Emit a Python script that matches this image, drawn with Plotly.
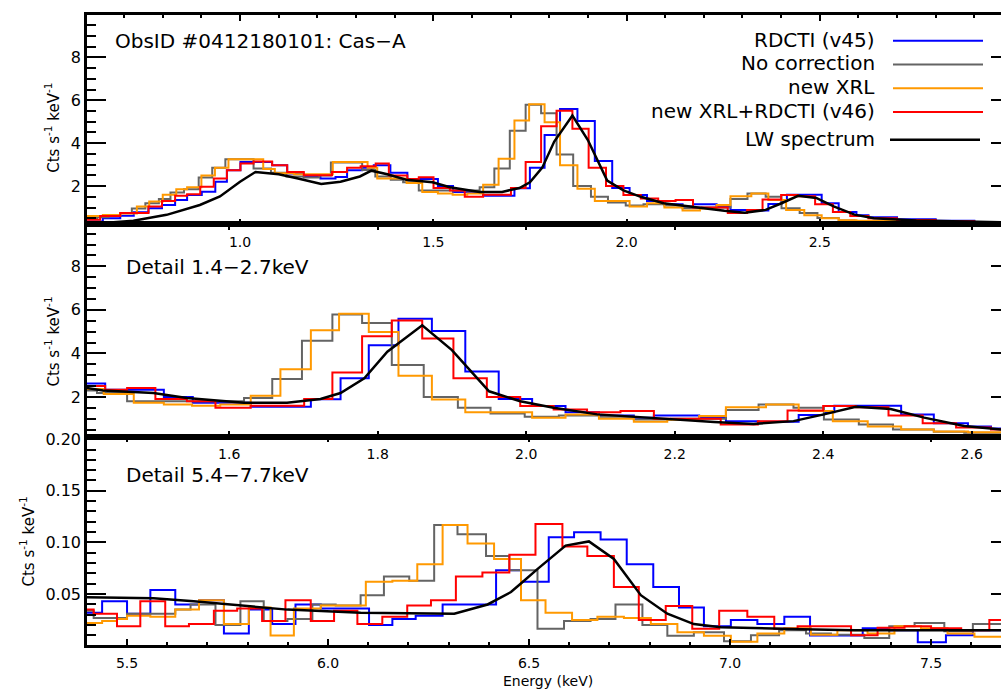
import plotly.graph_objects as go

# ---------------- data: soft band (0.6-3.0 keV), used in top and middle panels
rdcti_soft_edges = [0.604, 0.645, 0.690, 0.725, 0.763, 0.798, 0.832, 0.863, 0.901, 0.936, 0.966, 1.001,
                    1.035, 1.083, 1.122, 1.165, 1.208, 1.247, 1.277, 1.316, 1.346, 1.389, 1.433, 1.512,
                    1.551, 1.629, 1.710, 1.750, 1.788, 1.828, 1.873, 1.918, 1.963, 2.008, 2.053, 2.098,
                    2.145, 2.172, 2.233, 2.269, 2.313, 2.367, 2.401, 2.415, 2.505, 2.549, 2.595, 2.626,
                    2.70, 2.80, 2.90, 3.00]
rdcti_soft_vals = [0.35, 0.50, 0.62, 0.78, 0.97, 1.12, 1.35, 1.58, 1.74, 2.20, 2.74, 3.12, 3.12, 2.97,
                   2.59, 2.43, 2.36, 2.43, 2.74, 2.85, 2.97, 2.62, 2.33, 2.00, 1.73, 1.55, 1.90, 2.86,
                   4.38, 5.59, 5.03, 3.17, 1.91, 1.58, 1.30, 1.15, 1.05, 1.15, 1.05, 0.89, 0.86, 1.17,
                   1.30, 1.60, 1.20, 0.79, 0.64, 0.55, 0.45, 0.38, 0.33]

nocorr_soft_edges = [0.604, 0.630, 0.660, 0.690, 0.720, 0.755, 0.790, 0.820, 0.855, 0.893, 0.928, 0.962,
                     1.035, 1.080, 1.120, 1.165, 1.205, 1.235, 1.316, 1.350, 1.390, 1.422, 1.4625, 1.620,
                     1.658, 1.698, 1.739, 1.779, 1.819, 1.862, 1.908, 1.952, 1.998, 2.044, 2.098, 2.145,
                     2.195, 2.269, 2.313, 2.360, 2.401, 2.448, 2.494, 2.549, 2.590, 2.70, 2.80, 3.00]
nocorr_soft_vals = [0.50, 0.55, 0.62, 0.75, 0.95, 1.20, 1.40, 1.70, 1.85, 2.40, 2.85, 3.25, 2.82, 2.62,
                    2.45, 2.40, 2.50, 3.10, 2.75, 2.45, 2.30, 2.18, 1.80, 1.95, 2.82, 4.58, 5.79, 5.40,
                    3.47, 2.00, 1.50, 1.24, 1.09, 1.15, 1.09, 0.97, 1.00, 1.40, 1.65, 1.50, 0.97, 0.74,
                    0.51, 0.40, 0.36, 0.32, 0.30]

newxrl_soft_edges = [0.604, 0.645, 0.690, 0.733, 0.765, 0.800, 0.835, 0.863, 0.900, 0.935, 0.970, 1.060,
                     1.090, 1.140, 1.240, 1.330, 1.355, 1.431, 1.4715, 1.512, 1.550, 1.588, 1.629, 1.669,
                     1.710, 1.748, 1.788, 1.828, 1.873, 1.918, 2.008, 2.053, 2.098, 2.145, 2.190, 2.233,
                     2.269, 2.323, 2.367, 2.413, 2.460, 2.505, 2.549, 2.595, 2.70, 3.00]
newxrl_soft_vals = [0.60, 0.65, 0.72, 1.05, 1.28, 1.60, 1.85, 1.95, 2.50, 2.85, 3.25, 2.80, 2.60, 2.55,
                    3.12, 2.85, 2.36, 2.14, 1.73, 1.65, 1.60, 1.65, 2.06, 3.27, 5.06, 5.82, 4.98, 2.97,
                    1.88, 1.30, 1.05, 1.20, 1.00, 0.86, 0.95, 1.12, 1.53, 1.65, 1.35, 0.89, 0.64, 0.50,
                    0.41, 0.38, 0.32]

v46_soft_edges = [0.604, 0.638, 0.690, 0.763, 0.798, 0.832, 0.863, 0.897, 0.932, 0.966, 1.001, 1.035,
                  1.083, 1.122, 1.165, 1.238, 1.277, 1.312, 1.351, 1.385, 1.433, 1.4625, 1.5006, 1.543,
                  1.5815, 1.629, 1.701, 1.739, 1.779, 1.819, 1.860, 1.902, 1.947, 1.992, 2.037, 2.082,
                  2.127, 2.172, 2.262, 2.312, 2.352, 2.400, 2.444, 2.488, 2.534, 2.579, 2.626, 2.70,
                  2.80, 2.90, 3.00]
v46_soft_vals = [0.43, 0.60, 0.74, 1.05, 1.30, 1.55, 1.62, 1.97, 2.36, 2.74, 3.05, 3.15, 2.97, 2.66,
                 2.51, 2.66, 2.85, 2.93, 3.05, 2.50, 2.33, 2.41, 1.91, 1.80, 1.50, 1.60, 1.91, 3.12,
                 4.79, 5.51, 4.68, 2.86, 2.00, 1.58, 1.42, 1.30, 1.35, 1.00, 0.74, 0.89, 1.38, 1.58,
                 1.53, 1.15, 0.79, 0.60, 0.50, 0.42, 0.36, 0.32]

lw_soft_x = [0.604, 0.724, 0.810, 0.896, 0.948, 1.000, 1.040, 1.100, 1.150, 1.210, 1.260, 1.310, 1.340,
             1.381, 1.430, 1.498, 1.543, 1.620, 1.678, 1.723, 1.750, 1.782, 1.813, 1.860, 1.900, 1.950,
             1.992, 2.037, 2.096, 2.145, 2.195, 2.253, 2.306, 2.360, 2.401, 2.444, 2.491, 2.536, 2.590,
             2.640, 2.750, 2.900, 3.000]
lw_soft_y = [0.22, 0.38, 0.66, 1.12, 1.52, 2.20, 2.66, 2.55, 2.35, 2.10, 2.20, 2.45, 2.72, 2.55, 2.30,
             2.18, 1.95, 1.73, 1.73, 1.91, 2.18, 2.86, 4.08, 5.29, 4.15, 2.26, 1.80, 1.50, 1.20, 1.08,
             0.98, 0.85, 0.76, 0.89, 1.20, 1.55, 1.45, 1.05, 0.67, 0.50, 0.40, 0.33, 0.30]

# ---------------- data: hard band (5.4-7.7 keV), bottom panel
rdcti_hard_edges = [5.400, 5.438, 5.500, 5.558, 5.620, 5.679, 5.741, 5.803, 5.861, 5.919, 5.982, 6.102,
                    6.160, 6.218, 6.285, 6.418, 6.480, 6.549, 6.612, 6.678, 6.743, 6.809, 6.873, 6.935,
                    7.002, 7.068, 7.135, 7.199, 7.266, 7.330, 7.396, 7.467, 7.537, 7.604, 7.700]
rdcti_hard_vals = [0.032, 0.043, 0.031, 0.054, 0.040, 0.044, 0.012, 0.035, 0.021, 0.040, 0.036, 0.020,
                   0.026, 0.029, 0.040, 0.073, 0.062, 0.105, 0.110, 0.103, 0.079, 0.057, 0.037, 0.019,
                   0.025, 0.021, 0.028, 0.010, 0.010, 0.017, 0.015, 0.0035, 0.0103, 0.015]

nocorr_hard_edges = [5.400, 5.417, 5.500, 5.620, 5.658, 5.720, 5.782, 5.840, 5.899, 5.961, 6.019, 6.081,
                     6.139, 6.202, 6.264, 6.322, 6.393, 6.451, 6.521, 6.587, 6.653, 6.715, 6.782, 6.844,
                     6.910, 6.985, 7.052, 7.122, 7.189, 7.251, 7.334, 7.396, 7.459, 7.533, 7.604, 7.700]
nocorr_hard_vals = [0.034, 0.027, 0.031, 0.035, 0.040, 0.020, 0.043, 0.024, 0.026, 0.040, 0.039, 0.049,
                    0.067, 0.063, 0.117, 0.108, 0.087, 0.073, 0.0166, 0.024, 0.026, 0.040, 0.020, 0.0097,
                    0.013, 0.0045, 0.0103, 0.015, 0.012, 0.0107, 0.0075, 0.019, 0.022, 0.014, 0.021]

newxrl_hard_edges = [5.400, 5.438, 5.475, 5.500, 5.558, 5.620, 5.679, 5.741, 5.803, 5.857, 5.915, 5.982,
                     6.094, 6.160, 6.222, 6.285, 6.347, 6.413, 6.480, 6.541, 6.607, 6.670, 6.736, 6.803,
                     6.869, 6.935, 7.002, 7.068, 7.135, 7.201, 7.267, 7.342, 7.409, 7.475, 7.541, 7.608,
                     7.700]
newxrl_hard_vals = [0.022, 0.024, 0.026, 0.029, 0.028, 0.035, 0.044, 0.021, 0.037, 0.010, 0.036, 0.039,
                    0.062, 0.063, 0.079, 0.117, 0.099, 0.084, 0.044, 0.032, 0.025, 0.028, 0.027, 0.021,
                    0.013, 0.0097, 0.004, 0.012, 0.017, 0.0107, 0.015, 0.012, 0.019, 0.017, 0.012, 0.0088]

v46_hard_edges = [5.400, 5.417, 5.475, 5.533, 5.595, 5.654, 5.716, 5.774, 5.836, 5.894, 5.957, 6.015,
                  6.073, 6.135, 6.197, 6.256, 6.318, 6.384, 6.451, 6.516, 6.583, 6.645, 6.711, 6.773,
                  6.840, 6.906, 6.973, 7.043, 7.110, 7.168, 7.301, 7.367, 7.434, 7.500, 7.575, 7.645,
                  7.700]
v46_hard_vals = [0.035, 0.031, 0.019, 0.043, 0.019, 0.021, 0.034, 0.036, 0.024, 0.044, 0.024, 0.034,
                 0.021, 0.028, 0.039, 0.044, 0.067, 0.071, 0.088, 0.118, 0.096, 0.087, 0.057, 0.025,
                 0.0385, 0.0166, 0.034, 0.028, 0.0166, 0.019, 0.0103, 0.0175, 0.019, 0.017, 0.015, 0.025]

lw_hard_x = [5.400, 5.566, 5.666, 5.749, 5.899, 6.081, 6.231, 6.314, 6.397, 6.455, 6.479, 6.520, 6.591,
             6.649, 6.711, 6.778, 6.844, 6.910, 6.977, 7.060, 7.180, 7.310, 7.480, 7.700]
lw_hard_y = [0.047, 0.046, 0.043, 0.040, 0.035, 0.032, 0.031, 0.031, 0.040, 0.052, 0.060, 0.074, 0.097,
             0.101, 0.084, 0.049, 0.031, 0.021, 0.018, 0.017, 0.016, 0.015, 0.015, 0.015]

series_names = ["RDCTI (v45)", "No correction", "new XRL", "new XRL+RDCTI (v46)", "LW spectrum"]
series_colors = ["rgb(0,0,255)", "rgb(100,100,100)", "rgb(255,153,0)", "rgb(255,0,0)", "black"]

# ---------------- layout helpers (pixel -> paper)
W, H = 1001, 689
def fx(p):
    return p / W
def fy(p):
    return 1 - p / H

FONT = "DejaVu Sans"

fig = go.Figure()

soft = [(rdcti_soft_edges, rdcti_soft_vals), (nocorr_soft_edges, nocorr_soft_vals),
        (newxrl_soft_edges, newxrl_soft_vals), (v46_soft_edges, v46_soft_vals)]
hard = [(rdcti_hard_edges, rdcti_hard_vals), (nocorr_hard_edges, nocorr_hard_vals),
        (newxrl_hard_edges, newxrl_hard_vals), (v46_hard_edges, v46_hard_vals)]


def add_panel(data, lwx, lwy, xa, ya):
    for (edges, vals), col, name in zip(data, series_colors, series_names):
        fig.add_trace(go.Scatter(x=edges, y=list(vals) + [vals[-1]], mode="lines", name=name,
                                 line=dict(color=col, width=2, shape="hv"),
                                 xaxis=xa, yaxis=ya, showlegend=False, hoverinfo="skip"))
    fig.add_trace(go.Scatter(x=lwx, y=lwy, mode="lines", name=series_names[4],
                             line=dict(color="black", width=2.5),
                             xaxis=xa, yaxis=ya, showlegend=False, hoverinfo="skip"))


add_panel(soft, lw_soft_x, lw_soft_y, "x", "y")
add_panel(soft, lw_soft_x, lw_soft_y, "x2", "y2")
add_panel(hard, lw_hard_x, lw_hard_y, "x3", "y3")

# empty traces so the right-hand tick axes are drawn
for xa, ya in [("x", "y4"), ("x2", "y5"), ("x3", "y6")]:
    fig.add_trace(go.Scatter(x=[], y=[], xaxis=xa, yaxis=ya, showlegend=False, hoverinfo="skip"))

base = dict(tickcolor="black", showgrid=False, zeroline=False, tickmode="linear", tick0=0,
            ticks="inside")
xdom = [fx(87), 1.0]


def xax(rng, dtick, mdtick, anchor):
    return dict(domain=xdom, range=rng, anchor=anchor, dtick=dtick, tickformat=".1f",
                showline=True, linecolor="black", linewidth=2.5, mirror="ticks",
                ticklen=6, tickwidth=1.5, ticklabelstandoff=3,
                tickfont=dict(family=FONT, size=14, color="black"),
                minor=dict(dtick=mdtick, ticks="inside", ticklen=3, tickwidth=1.5, tickcolor="black",
                           showgrid=False),
                **base)


def yax(dom, rng, dtick, mdtick, anchor, fmt):
    return dict(domain=dom, range=rng, anchor=anchor, dtick=dtick, tickformat=fmt,
                showline=True, linecolor="black", linewidth=2.5, mirror=False,
                ticklen=19, tickwidth=1.5,
                tickfont=dict(family=FONT, size=16, color="black"),
                minor=dict(dtick=mdtick, ticks="inside", ticklen=9, tickwidth=1.5, tickcolor="black",
                           showgrid=False),
                **base)


def yright(over, rng, dtick, anchor):
    return dict(overlaying=over, side="right", anchor=anchor, range=rng, dtick=dtick,
                ticklen=10, tickwidth=1.5, showline=False, showticklabels=False, **base)


y1r = [0.22, 9.96]
y2r = [0.18, 9.93]
y3r = [0.0008, 0.2025]

fig.update_layout(
    width=W, height=H, margin=dict(l=0, r=0, t=0, b=0),
    paper_bgcolor="white", plot_bgcolor="white", showlegend=False,
    font=dict(family=FONT, color="black"),
    xaxis=xax([0.604, 2.969], 0.5, 0.1, "y"),
    yaxis=yax([fy(219.5), fy(8.5)], y1r, 2, 0.5, "x", "d"),
    xaxis2=xax([1.4085, 2.6395], 0.2, 0.05, "y2"),
    yaxis2=yax([fy(434), fy(219.5)], y2r, 2, 0.5, "x2", "d"),
    xaxis3=xax([5.4004, 7.674], 0.5, 0.1, "y3"),
    yaxis3=yax([fy(644.5), fy(434)], y3r, 0.05, 0.01, "x3", ".2f"),
    yaxis4=yright("y", y1r, 2, "x"),
    yaxis5=yright("y2", y2r, 2, "x2"),
    yaxis6=yright("y3", y3r, 0.05, "x3"),
)

ann = []
def txt(text, x, y, size, xanchor="left", angle=0):
    ann.append(dict(text=text, x=fx(x), y=fy(y), xref="paper", yref="paper", showarrow=False,
                    xanchor=xanchor, yanchor="middle", textangle=angle,
                    font=dict(family=FONT, size=size, color="black")))

txt("ObsID #0412180101: Cas\u2212A", 113, 34, 20)
txt("Detail 1.4\u22122.7keV", 124, 263, 20)
txt("Detail 5.4\u22127.7keV", 124, 473, 20)
ytitle = "Cts s<sup>-1</sup> keV<sup>-1</sup>"
txt(ytitle, 52, 122, 15, "center", -90)
txt(ytitle, 52, 338, 15, "center", -90)
txt(ytitle, 27, 540, 15, "center", -90)
txt("Energy (keV)", 548, 681, 14, "center")

leg_y = [33, 57, 81, 105, 133]
shapes = []
for name, col, yy in zip(series_names, series_colors, leg_y):
    txt(name, 877, yy, 20, "right")
    x0, x1 = (890, 980) if name == "LW spectrum" else (893, 983)
    shapes.append(dict(type="line", xref="paper", yref="paper", x0=fx(x0), x1=fx(x1),
                       y0=fy(yy + 1), y1=fy(yy + 1),
                       line=dict(color=col, width=2.5 if col == "black" else 2)))

fig.update_layout(annotations=ann, shapes=shapes)

fig.write_html("out.html", config={"displayModeBar": False},
               post_script="document.body.style.margin='0';document.body.style.overflow='hidden';")
